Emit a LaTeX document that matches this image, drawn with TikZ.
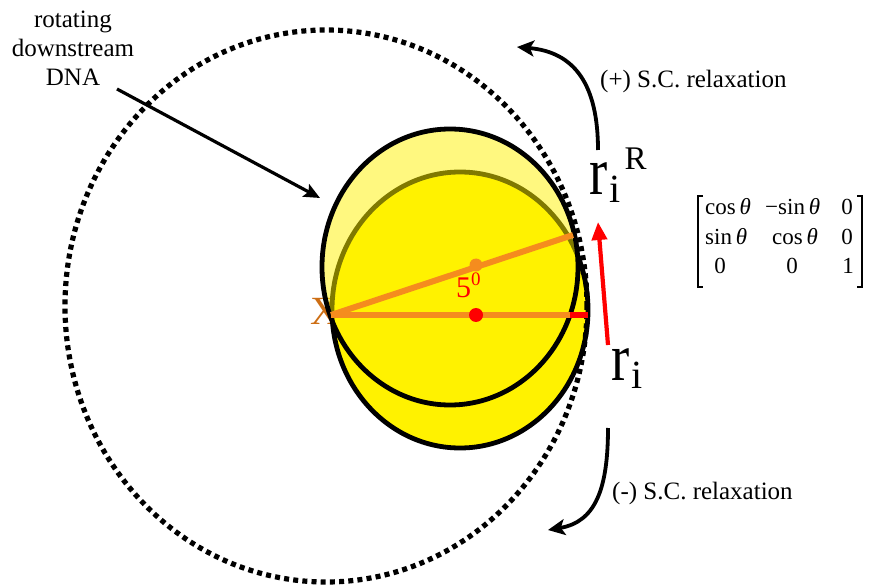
\documentclass[tikz,border=0pt]{standalone}
\usepackage{fontspec}
\setmainfont{Liberation Serif}
\usepackage{graphicx}
\usetikzlibrary{arrows.meta}
\definecolor{lineorange}{RGB}{245,140,30}
\definecolor{xorange}{RGB}{205,110,20}
\begin{document}
\begin{tikzpicture}[x=1pt,y=-1pt,
  outline/.style={line width=4.8pt, draw=black},
  bigarrow/.style={line width=3.8pt, -{Stealth[length=17pt,width=16pt,inset=4pt]}},
  lbl/.style={font=\fontsize{25}{29}\selectfont, inner sep=0pt},
  matent/.style={font=\fontsize{23}{23}\selectfont, inner sep=0pt},
  orangeline/.style={line width=6pt, draw=lineorange},
  dotring/.style={line width=5.2pt, dash pattern=on 5pt off 4.2pt}]
\useasboundingbox (0,0) rectangle (870,585);

% named points
\coordinate (lowc) at (460,310);
\coordinate (upc) at (450,267);
\coordinate (ringc) at (326,306);
\coordinate (xpt) at (331,315);
\coordinate (ctr) at (476,315);
\coordinate (redA) at (570,315);
\coordinate (redB) at (588,315);
\coordinate (slantEnd) at (573,235);
\coordinate (odot) at (476,265);

% X label (partly hidden by the ellipses)
\node[xorange, inner sep=0pt, anchor=base, font=\fontsize{40}{40}\selectfont] (xlab) at (325,324) {X};

% lower (original) ellipse
\path[fill=yellow, outline] (lowc) ellipse [x radius=128pt, y radius=138pt];
% upper (rotated) ellipse, semi transparent
\path[fill=yellow, fill opacity=0.5, outline] (upc) ellipse [x radius=128pt, y radius=138pt];

% dotted ring
\draw[dotring] (ringc) ellipse [x radius=261pt, y radius=276pt];

% lines
\draw[red, line width=5.5pt] (redA) -- (redB);
\draw[orangeline] (xpt) -- (redA);
\draw[orangeline] (xpt) -- (slantEnd);
\fill[lineorange] (odot) circle (6.5pt);
\fill[red] (ctr) circle (7pt);

% 5^0
\node[red, inner sep=0pt, anchor=base west, font=\fontsize{30}{30}\selectfont] (ang) at (456,298) {5\raisebox{12pt}{\fontsize{19}{19}\selectfont 0}};

% r_i^R and r_i
\node[inner sep=0pt, anchor=base west] (riR) at (589,195)
  {\scalebox{1.05}[1.3]{\fontsize{52}{52}\selectfont r}\hspace{2pt}\raisebox{-8pt}{\fontsize{40}{40}\selectfont i}\hspace{4pt}\raisebox{25pt}{\fontsize{33}{33}\selectfont R}};
\node[inner sep=0pt, anchor=base west] (ri) at (611,380)
  {\scalebox{1.05}[1.3]{\fontsize{52}{52}\selectfont r}\hspace{2pt}\raisebox{-8pt}{\fontsize{40}{40}\selectfont i}};

% red rotation arrow
\coordinate (redTail) at (608,345);
\coordinate (redTip) at (598,222);
\draw[red, line width=4.2pt, -{Triangle[length=18pt,width=15pt]}] (redTail) -- (redTip);

% curved arrows
\coordinate (pTail) at (598,150);
\coordinate (pTip) at (517,47);
\draw[bigarrow] (pTail) .. controls (598,85) and (575,52) .. (pTip);
\coordinate (mTail) at (608,428);
\coordinate (mTip) at (548,530);
\draw[bigarrow] (mTail) .. controls (608,490) and (595,522) .. (mTip);

\node[lbl, anchor=base west] (plus) at (600,88) {(+) S.C. relaxation};
\node[lbl, anchor=base west] (minus) at (612,499) {(-) S.C. relaxation};

% DNA label and arrow
\node[lbl, align=center] (dna) at (73,48) {rotating\\downstream\\DNA};
\coordinate (dnaTail) at (117,89);
\coordinate (dnaTip) at (320,198);
\draw[line width=3.2pt, -{Stealth[length=16pt,width=14pt,inset=3pt]}] (dnaTail) -- (dnaTip);

% rotation matrix
\node[matent, anchor=base west] (m11) at (705,215) {cos\,\textit{θ}};
\node[matent, anchor=base west] (m12) at (765,215) {−sin\,\textit{θ}};
\node[matent, anchor=base] (m13) at (847,215) {0};
\node[matent, anchor=base west] (m21) at (705,245) {sin\,\textit{θ}};
\node[matent, anchor=base west] (m22) at (772,245) {cos\,\textit{θ}};
\node[matent, anchor=base] (m23) at (847,245) {0};
\node[matent, anchor=base] (m31) at (720,274) {0};
\node[matent, anchor=base] (m32) at (792,274) {0};
\node[matent, anchor=base] (m33) at (848,274) {1};
\coordinate (lbT) at (698,196);
\coordinate (lbB) at (698,287);
\coordinate (rbT) at (862,196);
\coordinate (rbB) at (862,287);
\draw[line width=1.3pt] ([xshift=5pt]lbT) -- (lbT) -- (lbB) -- ([xshift=5pt]lbB);
\draw[line width=1.3pt] ([xshift=-5pt]rbT) -- (rbT) -- (rbB) -- ([xshift=-5pt]rbB);
\end{tikzpicture}
\end{document}
